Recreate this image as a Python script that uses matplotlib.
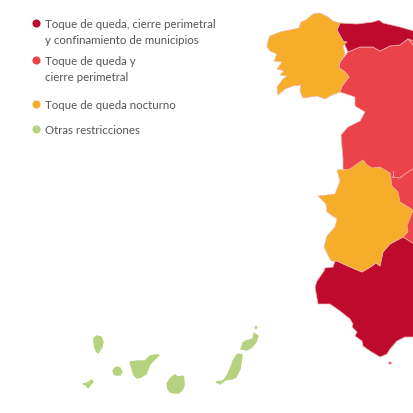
import matplotlib
matplotlib.use('Agg')
import matplotlib.pyplot as plt
from matplotlib.patches import Polygon

# Region colours
dark_red = '#be0b2d'
light_red = '#ea444a'
orange = '#f6ae2a'
green = '#b5d27f'
text_col = '#555555'

# Legend
legend_labels = ['Toque de queda, cierre perimetral\ny confinamiento de municipios',
                 'Toque de queda y\ncierre perimetral',
                 'Toque de queda nocturno',
                 'Otras restricciones']
legend_colors = [dark_red, light_red, orange, green]
legend_dot_y = [24, 61, 105, 130]
legend_text_y = [32.7, 69.7, 105.5, 130.5]

galicia = [(270,37),(280,33),(299,29),(301,23),(306,21),(313,15),(320,14),(328,18),(333,22),(340,24),
           (337,31),(343,42),(347,43),(343,47),(345,55),(340,63),(339,69),(345,73),(349,78),(342,87),(340,93),
           (330,97),(325,100),(317,97),(303,99),(300,92),(301,86),(293,87),(285,90),(278,96),(277,88),(283,80),
           (287,77),(280,76),(284,72),(277,70),(282,63),(274,62),(277,55),(270,52),(267,48),(268,42)]
asturias = [(340,24),(357,25),(373,23),(379,21),(383,24),(400,28),(414,32),(414,42),(408,40),(400,46),(390,47),
            (380,52),(373,48),(360,48),(348,53),(343,42),(337,31)]
interior = [(348,53),(360,48),(373,48),(380,52),(390,47),(400,46),(408,40),(414,42),(414,245),(403,238),(390,245),
            (383,253),(360,230),(350,190),(350,172),(343,170),(343,160),(341,136),(348,128),(360,122),(365,113),
            (355,107),(355,98),(340,93),(342,87),(349,78),(345,73),(339,69),(340,63)]
extremadura = [(337,171),(350,170),(357,165),(363,161),(367,166),(372,169),(380,168),(390,174),(392,187),(398,193),
               (400,203),(413,211),(407,227),(408,233),(403,238),(390,245),(383,253),(380,267),(376,264),(372,267),
               (362,273),(350,268),(337,262),(331,262),(324,248),(327,237),(335,228),(337,220),(327,213),(326,205),
               (318,197),(335,195),(340,182)]
andalucia = [(335,262),(337,262),(350,268),(362,273),(372,267),(376,264),(380,267),(383,253),(390,245),(403,238),
             (414,245),(414,338),(405,338),(397,342),(390,350),(387,355),(380,358),(370,352),(363,347),(362,342),
             (355,337),(357,333),(352,328),(353,325),(350,320),(340,312),(330,305),(318,305),(315,288),(317,282),
             (324,272),(325,269),(333,268)]
ceuta = [(388,363),(391,363),(392,365),(389,365)]
la_palma = [(94,339),(97,337),(101,338),(103,343),(102,348),(98,354),(97,353),(95,349),(94,344)]
el_hierro = [(83,385),(87,384),(90,382),(92,381),(93,383),(90,386),(88,389),(86,386)]
la_gomera = [(113,372),(115,369),(117,368),(120,369),(122,373),(120,376),(116,376),(114,375)]
tenerife = [(130,363),(138,362),(145,362),(150,357),(155,356),(159,356),(155,360),(150,365),(146,375),(141,378),
            (137,379),(134,376),(132,370)]
gran_canaria = [(167,385),(169,381),(173,377),(175,376),(178,378),(183,377),(184,382),(184,387),(182,391),(179,394),
                (174,394),(170,393),(168,390)]
fuerteventura = [(216,383),(223,382),(227,377),(231,368),(233,362),(236,357),(238,355),(242,356),(241,364),(240,370),
                 (236,378),(232,380),(225,381),(220,385)]
lanzarote = [(241,350),(243,344),(246,342),(253,340),(254,334),(258,337),(256,343),(252,348),(247,351)]
graciosa = [(255,327),(256,327),(256,329),(255,329)]

outline_col = '#f5b5b0'

fig = plt.figure(figsize=(4.14, 4.14), dpi=100)
ax = fig.add_axes([0, 0, 1, 1])
ax.set_xlim(0, 414)
ax.set_ylim(414, 0)
ax.axis('off')

# Mainland and islands
for outline, col in [(interior, light_red), (asturias, dark_red), (andalucia, dark_red),
                     (galicia, orange), (extremadura, orange), (ceuta, light_red)]:
    ax.add_patch(Polygon(outline, closed=True, facecolor=col, edgecolor=outline_col, linewidth=0.5))

for outline in [la_palma, el_hierro, la_gomera, tenerife, gran_canaria, fuerteventura, lanzarote, graciosa]:
    ax.add_patch(Polygon(outline, closed=True, facecolor=green, edgecolor=green, linewidth=1.0))

# Borders between the regions with the same colour
ax.plot([392, 400, 405, 413], [178, 179, 175, 170], color=outline_col, lw=0.6)
ax.plot([393, 393], [172, 178], color=outline_col, lw=0.6)
ax.plot([408, 414], [40, 47], color=outline_col, lw=0.6)

# Legend
for label, col, dot_y, text_y in zip(legend_labels, legend_colors, legend_dot_y, legend_text_y):
    ax.scatter([36], [dot_y], s=34, color=col, linewidths=0)
    ax.text(45, text_y, label, family='Lato', fontsize=8.3, color=text_col,
            va='center', ha='left', linespacing=1.5)

fig.savefig('out.png', dpi=100)
